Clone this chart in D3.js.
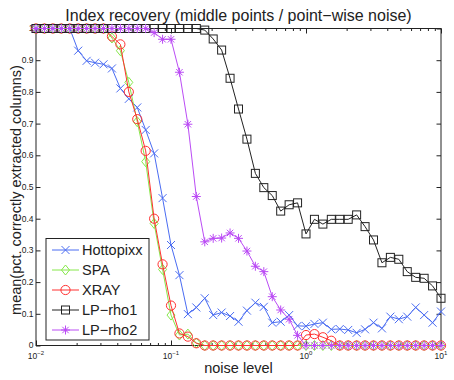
<!DOCTYPE html>
<html>
<head>
<meta charset="utf-8">
<script src="https://cdn.jsdelivr.net/npm/d3@7"></script>
<style>
body { margin: 0; background: #fff; }
text { font-family: "Liberation Sans", Arial, sans-serif; fill: #222; }
</style>
</head>
<body>
<div id="chart"></div>
<script>
// noise levels: logspace(-2, 1, 49)
var noise = d3.range(49).map(function(i) { return Math.pow(10, -2 + i / 16); });

var hottopixx = [1, 1, 1, 1, 1, 0.93, 0.898, 0.892, 0.887, 0.874,
  0.811, 0.778, 0.751, 0.68, 0.606, 0.465, 0.317, 0.222, 0.099, 0.12,
  0.149, 0.096, 0.104, 0.093, 0.075, 0.11, 0.135, 0.122, 0.072, 0.075,
  0.096, 0.062, 0.061, 0.068, 0.072, 0.051, 0.052, 0.049, 0.04, 0.051,
  0.072, 0.054, 0.091, 0.083, 0.091, 0.12, 0.096, 0.072, 0.107];

var spa = [1, 1, 1, 1, 1, 1, 1, 1, 1, 0.97,
  0.93, 0.83, 0.706, 0.58, 0.385, 0.24, 0.096, 0.033, 0.036, 0.008,
  0, 0, 0, 0, 0, 0, 0, 0, 0, 0,
  0, 0, 0, 0, 0, 0, 0, 0, 0, 0,
  0, 0, 0, 0, 0, 0, 0, 0, 0];

var xray = [1, 1, 1, 1, 1, 1, 1, 1, 1, 0.975,
  0.95, 0.8, 0.714, 0.614, 0.4, 0.256, 0.126, 0.038, 0.028, 0.007,
  0, 0, 0, 0, 0, 0, 0, 0, 0, 0,
  0, 0, 0.033, 0.036, 0.026, 0.015, 0, 0, 0, 0,
  0, 0, 0, 0, 0, 0, 0, 0, 0];

var lpRho1 = [1, 1, 1, 1, 1, 1, 1, 1, 1, 1,
  1, 1, 1, 1, 1, 1, 1, 1, 1, 1,
  0.995, 0.967, 0.932, 0.843, 0.746, 0.651, 0.543, 0.498, 0.473, 0.424,
  0.444, 0.45, 0.352, 0.398, 0.383, 0.398, 0.398, 0.398, 0.412, 0.375,
  0.333, 0.261, 0.278, 0.272, 0.233, 0.215, 0.212, 0.188, 0.149];

var lpRho2 = [1, 1, 1, 1, 1, 1, 1, 1, 1, 1,
  1, 1, 1, 1, 0.987, 0.966, 0.966, 0.862, 0.698, 0.47,
  0.327, 0.338, 0.339, 0.355, 0.338, 0.298, 0.25, 0.233, 0.154, 0.112,
  0.083, 0.032, 0, 0, 0, 0, 0, 0, 0, 0,
  0, 0, 0, 0, 0, 0, 0, 0, 0];

var seriesNames = ["Hottopixx", "SPA", "XRAY", "LP\u2212rho1", "LP\u2212rho2"];
var seriesValues = [hottopixx, spa, xray, lpRho1, lpRho2];
var seriesColors = ["#4a6cf2", "#86e84a", "#ff3030", "#222222", "#bb4cf5"];
var seriesMarkers = ["cross", "diamond", "circle", "square", "star"];

var yTicks = [0, 0.1, 0.2, 0.3, 0.4, 0.5, 0.6, 0.7, 0.8, 0.9, 1];
var xMajor = [0.01, 0.1, 1, 10];
var xExponents = ["\u22122", "\u22121", "0", "1"];

var margin = {top: 28.5, right: 13, bottom: 34.5, left: 36},
    width = 454 - margin.left - margin.right,
    height = 380 - margin.top - margin.bottom;

var svg = d3.select("#chart")
  .append("svg")
    .attr("width", 454)
    .attr("height", 380)
  .append("g")
    .attr("transform", "translate(" + margin.left + "," + margin.top + ")");

var x = d3.scaleLog()
  .domain([0.01, 10])
  .range([0, width]);

var y = d3.scaleLinear()
  .domain([0, 1])
  .range([height, 0]);

// minor x ticks
var xMinor = [];
[0.01, 0.1, 1].forEach(function(d) {
  for (var k = 2; k <= 9; k++) xMinor.push(d * k);
});

function cleanAxis(g) {
  g.select(".domain").remove();
  g.selectAll("line").attr("stroke", "#222");
}

svg.append("g")
    .attr("transform", "translate(0," + height + ")")
  .call(d3.axisBottom(x).tickValues(xMinor).tickSize(-2.5).tickFormat(""))
  .call(cleanAxis);
svg.append("g")
    .attr("transform", "translate(0," + height + ")")
  .call(d3.axisBottom(x).tickValues(xMajor).tickSize(-5).tickFormat(""))
  .call(cleanAxis);
svg.append("g")
  .call(d3.axisTop(x).tickValues(xMinor).tickSize(-2.5).tickFormat(""))
  .call(cleanAxis);
svg.append("g")
  .call(d3.axisTop(x).tickValues(xMajor).tickSize(-5).tickFormat(""))
  .call(cleanAxis);

svg.append("g")
  .call(d3.axisLeft(y).tickValues(yTicks).tickSize(-4.5).tickFormat(""))
  .call(cleanAxis);
svg.append("g")
    .attr("transform", "translate(" + width + ",0)")
  .call(d3.axisRight(y).tickValues(yTicks).tickSize(-4.5).tickFormat(""))
  .call(cleanAxis);

// y tick labels
svg.append("g")
  .selectAll("text")
  .data(yTicks)
  .join("text")
    .attr("x", -2.5)
    .attr("y", function(d) { return y(d); })
    .attr("dy", "0.35em")
    .attr("text-anchor", "end")
    .style("font-size", "8.5px")
    .text(function(d) { return d; });

// x tick labels 10^k
var xl = svg.append("g")
  .selectAll("text")
  .data(xMajor)
  .join("text")
    .attr("x", function(d) { return x(d); })
    .attr("y", height + 13.5)
    .attr("text-anchor", "middle")
    .style("font-size", "8.5px");
xl.append("tspan").text("10");
xl.append("tspan")
    .attr("dy", -4)
    .style("font-size", "6px")
    .text(function(d, i) { return xExponents[i]; });

// box
svg.append("rect")
    .attr("width", width)
    .attr("height", height)
    .attr("fill", "none")
    .attr("stroke", "#222")
    .attr("stroke-width", 1);

function drawMarker(g, type, color) {
  if (type == "cross") {
    g.append("path").attr("d", "M-4,-4L4,4M-4,4L4,-4")
      .attr("stroke", color).attr("fill", "none");
  } else if (type == "diamond") {
    g.append("path").attr("d", "M0,-5L4,0L0,5L-4,0Z")
      .attr("stroke", color).attr("fill", "none");
  } else if (type == "circle") {
    g.append("circle").attr("r", 4.6)
      .attr("stroke", color).attr("fill", "none");
  } else if (type == "square") {
    g.append("rect").attr("x", -4).attr("y", -4).attr("width", 8).attr("height", 8)
      .attr("stroke", color).attr("fill", "none");
  } else {
    g.append("path").attr("d", "M-4.5,0L4.5,0M0,-4.5L0,4.5M-3.2,-3.2L3.2,3.2M-3.2,3.2L3.2,-3.2")
      .attr("stroke", color).attr("fill", "none");
    g.append("circle").attr("r", 1.2).attr("fill", color);
  }
}

var line = d3.line()
  .x(function(d, i) { return x(noise[i]); })
  .y(function(d) { return y(d); });

seriesValues.forEach(function(vals, s) {
  var g = svg.append("g");
  g.append("path")
    .datum(vals)
    .attr("d", line)
    .attr("fill", "none")
    .attr("stroke", seriesColors[s])
    .attr("stroke-width", 1);
  g.selectAll(".mk")
    .data(vals)
    .join("g")
      .attr("class", "mk")
      .attr("transform", function(d, i) { return "translate(" + x(noise[i]) + "," + y(d) + ")"; })
      .each(function() { drawMarker(d3.select(this), seriesMarkers[s], seriesColors[s]); });
});

// legend
var legend = svg.append("g")
    .attr("transform", "translate(" + (46 - margin.left) + "," + (238.5 - margin.top) + ")");
legend.append("rect")
    .attr("width", 103)
    .attr("height", 101.5)
    .attr("fill", "#fff")
    .attr("stroke", "#222");
seriesNames.forEach(function(name, s) {
  var row = legend.append("g").attr("transform", "translate(0," + (11.5 + s * 20) + ")");
  row.append("line")
      .attr("x1", 6).attr("x2", 33)
      .attr("stroke", seriesColors[s]);
  var m = row.append("g").attr("transform", "translate(19.5,0)");
  drawMarker(m, seriesMarkers[s], seriesColors[s]);
  row.append("text")
      .attr("x", 36)
      .attr("dy", "0.36em")
      .style("font-size", "14.5px")
      .text(name);
});

// title and labels
svg.append("text")
    .attr("x", width / 2)
    .attr("y", 21 - margin.top)
    .attr("text-anchor", "middle")
    .style("font-size", "16px")
    .text("Index recovery (middle points / point\u2212wise noise)");

svg.append("text")
    .attr("x", width / 2)
    .attr("y", 373 - margin.top)
    .attr("text-anchor", "middle")
    .style("font-size", "14.5px")
    .text("noise level");

svg.append("text")
    .attr("transform", "rotate(-90)")
    .attr("x", -(190 - margin.top))
    .attr("y", 21 - margin.left)
    .attr("text-anchor", "middle")
    .style("font-size", "14.5px")
    .text("mean(pct. correctly extracted columns)");
</script>
</body>
</html>
